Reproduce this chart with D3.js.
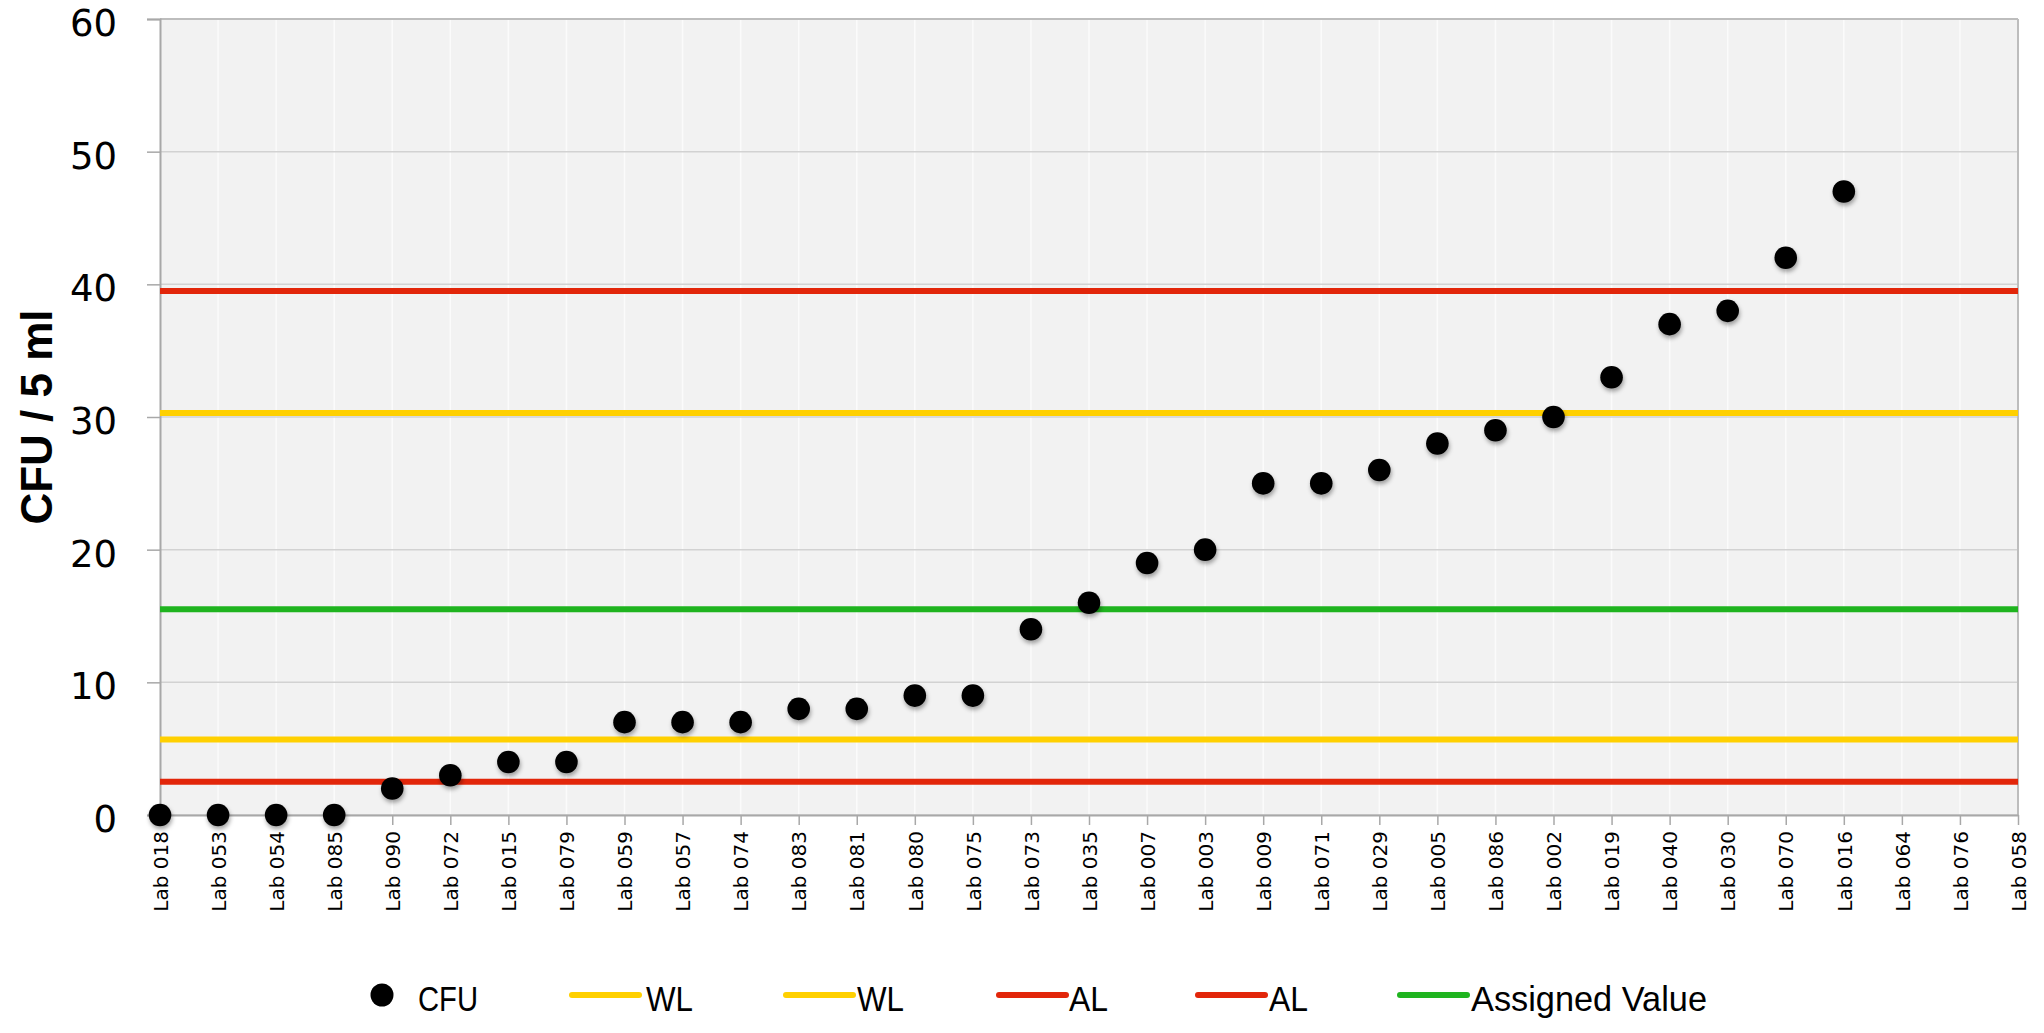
<!DOCTYPE html>
<html>
<head>
<meta charset="utf-8">
<script src="https://cdn.jsdelivr.net/npm/d3@7"></script>
<style>
  html, body { margin: 0; padding: 0; background: #ffffff; }
  svg { display: block; }
</style>
</head>
<body>
<svg id="chart" width="2044" height="1033"></svg>
<script>
// ---- data ----
const labs = ["Lab 018","Lab 053","Lab 054","Lab 085","Lab 090","Lab 072","Lab 015","Lab 079",
  "Lab 059","Lab 057","Lab 074","Lab 083","Lab 081","Lab 080","Lab 075","Lab 073","Lab 035",
  "Lab 007","Lab 003","Lab 009","Lab 071","Lab 029","Lab 005","Lab 086","Lab 002","Lab 019",
  "Lab 040","Lab 030","Lab 070","Lab 016","Lab 064","Lab 076","Lab 058"];
const cfu = [0,0,0,0,2,3,4,4,7,7,7,8,8,9,9,14,16,19,20,25,25,26,28,29,30,33,37,38,42,47,null,null,null];
const yTicks = [0,10,20,30,40,50,60];
const refNames = ["WL","WL","AL","AL","Assigned Value"];
const refValues = [5.7, 30.3, 2.5, 39.5, 15.5];
const refColors = ["#ffd000","#ffd000","#e2260a","#e2260a","#1fb41f"];
const legendNames = ["CFU","WL","WL","AL","AL","Assigned Value"];

// ---- layout ----
const pL = 160, pR = 2018, pT = 19, pB = 815;
const svg = d3.select("#chart");

const x = d3.scalePoint().domain(labs).range([pL, pR]);
const y = d3.scaleLinear().domain([0, 60]).range([pB, pT]);

const defs = svg.append("defs");
const f = defs.append("filter").attr("id","shadow").attr("x","-50%").attr("y","-50%").attr("width","200%").attr("height","200%");
f.append("feDropShadow").attr("dx",1).attr("dy",3).attr("stdDeviation",2.2)
  .attr("flood-color","#000").attr("flood-opacity",0.35);

// plot background
svg.append("rect").attr("x", pL).attr("y", pT)
  .attr("width", pR - pL).attr("height", pB - pT).attr("fill", "#f2f2f2");

// vertical gridlines
svg.append("g").selectAll("line").data(labs).join("line")
  .attr("x1", d => x(d)).attr("x2", d => x(d))
  .attr("y1", pT).attr("y2", pB)
  .attr("stroke", "#fbfbfb").attr("stroke-width", 1.5);

// horizontal gridlines
svg.append("g").selectAll("line").data(yTicks).join("line")
  .attr("x1", pL).attr("x2", pR)
  .attr("y1", d => y(d)).attr("y2", d => y(d))
  .attr("stroke", "#d2d2d2").attr("stroke-width", 1.5);

// border top/right
svg.append("line").attr("x1", pL).attr("x2", pR).attr("y1", pT).attr("y2", pT)
  .attr("stroke", "#bdbdbd").attr("stroke-width", 2);
svg.append("line").attr("x1", pR).attr("x2", pR).attr("y1", pT).attr("y2", pB)
  .attr("stroke", "#bdbdbd").attr("stroke-width", 2);

// y axis
const yAxis = svg.append("g").attr("transform", `translate(${pL},0)`)
  .call(d3.axisLeft(y).tickValues(yTicks).tickSize(13).tickPadding(30).tickFormat(d3.format("d")));
yAxis.select(".domain").attr("stroke", "#a8a8a8").attr("stroke-width", 2);
yAxis.selectAll(".tick line").attr("stroke", "#a8a8a8").attr("stroke-width", 1.5);
yAxis.selectAll(".tick text").attr("font-family", "DejaVu Sans").attr("font-size", 37)
  .attr("fill", "#000").attr("dy", "0.45em");

// x axis
const xAxis = svg.append("g").attr("transform", `translate(0,${pB})`)
  .call(d3.axisBottom(x).tickSize(10).tickSizeOuter(0));
xAxis.select(".domain").attr("stroke", "#a8a8a8").attr("stroke-width", 2);
xAxis.selectAll(".tick line").attr("stroke", "#a8a8a8").attr("stroke-width", 1.5);
xAxis.selectAll(".tick text")
  .attr("font-family", "DejaVu Sans").attr("font-size", 20).attr("fill", "#000")
  .attr("text-anchor", "end")
  .attr("transform", "rotate(-90)")
  .attr("x", -16).attr("y", 0).attr("dy", "0.36em");

// y axis title
svg.append("text")
  .attr("transform", `translate(52,${(pT + pB) / 2}) rotate(-90)`)
  .attr("text-anchor", "middle")
  .attr("font-family", "Liberation Sans").attr("font-weight", "bold").attr("font-size", 44)
  .attr("fill", "#000").text("CFU / 5 ml");

// reference lines
svg.append("g").selectAll("line").data(refValues).join("line")
  .attr("x1", pL).attr("x2", pR)
  .attr("y1", d => y(d)).attr("y2", d => y(d))
  .attr("stroke", (d, i) => refColors[i]).attr("stroke-width", 6);

// points
const pts = labs.map((l, i) => ({lab: l, v: cfu[i]})).filter(d => d.v !== null);
svg.append("g").attr("filter", "url(#shadow)").selectAll("circle").data(pts).join("circle")
  .attr("cx", d => x(d.lab)).attr("cy", d => y(d.v)).attr("r", 11.3).attr("fill", "#000");

// legend
const legY = 995;
const lg = svg.append("g");
lg.append("circle").attr("cx", 382).attr("cy", legY).attr("r", 11.5).attr("fill", "#000");
const legLineX = [572, 786, 999, 1198, 1400];
const legTextX = [418, 646, 857, 1069, 1269, 1471];
const legTextW = [60, 47, 47, 39, 39, 236];
lg.selectAll("line").data(refNames).join("line")
  .attr("x1", (d, i) => legLineX[i]).attr("x2", (d, i) => legLineX[i] + 67)
  .attr("y1", legY).attr("y2", legY)
  .attr("stroke", (d, i) => refColors[i]).attr("stroke-width", 6).attr("stroke-linecap", "round");
lg.selectAll("text").data(legendNames).join("text")
  .attr("x", (d, i) => legTextX[i]).attr("y", 1011)
  .attr("font-family", "Liberation Sans").attr("font-size", 35).attr("fill", "#000")
  .attr("textLength", (d, i) => legTextW[i]).attr("lengthAdjust", "spacingAndGlyphs")
  .text(d => d);
</script>
</body>
</html>
